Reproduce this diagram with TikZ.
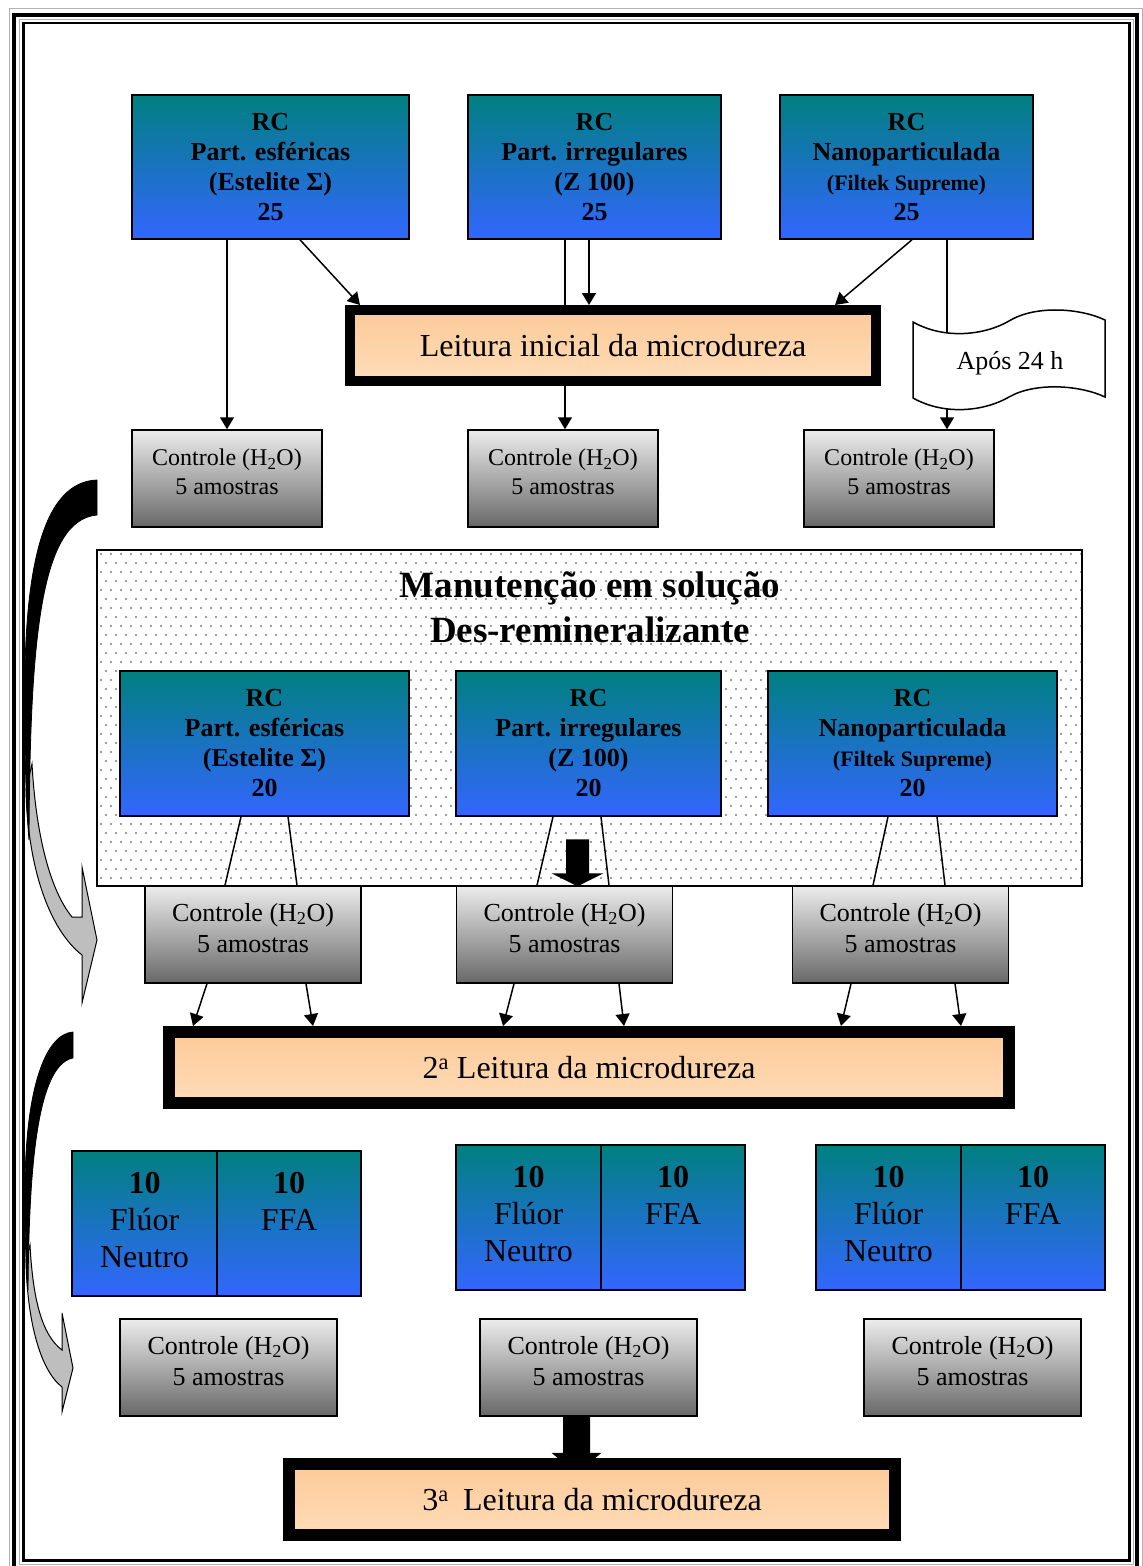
\documentclass[tikz,border=0pt]{standalone}
\usepackage{fontspec}
\setmainfont{Liberation Serif}
\usetikzlibrary{arrows.meta,calc,backgrounds}
\definecolor{tealtop}{RGB}{0,128,128}
\definecolor{bluebot}{RGB}{51,102,255}
\definecolor{graytop}{RGB}{236,236,236}
\definecolor{graybot}{RGB}{104,104,104}
\definecolor{peachA}{RGB}{252,202,152}
\definecolor{peachB}{RGB}{255,220,184}
\definecolor{arrgray}{RGB}{190,190,190}
\newcommand\ctltext{\raisebox{4pt}[\height][\depth]{\begin{tabular}{@{}c@{}}Controle (H\textsubscript{2}O)\\5 amostras\end{tabular}}}
\newcommand\cellL{\begin{tabular}{@{}c@{}}\textbf{10}\\Flúor\\Neutro\end{tabular}}
\newcommand\cellR{\begin{tabular}{@{}c@{}}\textbf{10}\\FFA\\\phantom{N}\end{tabular}}
\begin{document}
\begin{tikzpicture}[x=1pt,y=-1pt,
  bluebox/.style={draw, line width=1.5pt, top color=tealtop, bottom color=bluebot, align=center, inner sep=0pt, text=black, font=\bfseries\fontsize{26}{30}\selectfont, minimum height=144pt},
  cellbox/.style={draw, line width=1.5pt, top color=tealtop, bottom color=bluebot, align=center, inner sep=0pt, font=\fontsize{32}{37}\selectfont, minimum height=145pt},
  ctrlA/.style={draw, line width=1.5pt, top color=graytop, bottom color=graybot, align=center, inner sep=0pt, font=\fontsize{24}{29}\selectfont, minimum width=190pt, minimum height=97pt},
  ctrlB/.style={draw, line width=1.5pt, top color=graytop, bottom color=graybot, align=center, inner sep=0pt, font=\fontsize{26}{31}\selectfont, minimum width=216pt, minimum height=97pt},
  readbox/.style={draw, top color=peachA, bottom color=peachB, align=center, inner sep=0pt, font=\fontsize{32}{37}\selectfont, minimum height=71pt},
  arr/.style={line width=1.5pt, -{Triangle[length=12pt,width=14pt]}},
  ln/.style={line width=1.5pt},
  curvebk/.style={fill=black, draw=black, line width=0.8pt},
  curvegr/.style={fill=arrgray, draw=black, line width=1pt},
]
\useasboundingbox (0,0) rectangle (1143,1566);

% frame
\draw[gray!60, line width=0.8pt] (9,8) rectangle (1142,1575);
\draw[line width=4pt] (14,15) rectangle (1137,1569);
\draw[gray!60, line width=0.8pt] (19.5,19.5) rectangle (1133,1564);
\draw[line width=2.5pt] (23.5,23) rectangle (1129.5,1560.5);

% top row
\node[bluebox, minimum width=277pt] (t1) at (270.5,167) {RC\\Part. esféricas\\(Estelite Σ)\\25};
\node[bluebox, minimum width=253pt] (t2) at (594.5,167) {RC\\Part. irregulares\\(Z 100)\\25};
\node[bluebox, minimum width=253pt] (t3) at (906.5,167) {RC\\Nanoparticulada\\{\fontsize{22}{26}\selectfont (Filtek Supreme)}\\25};

\node[readbox, line width=10pt, minimum width=526pt] (L1) at (613,345.5) {Leitura inicial da microdureza};

% document shape
\filldraw[fill=white, line width=1.5pt] (913,322) .. controls (945,340) and (985,335) .. (1009,321) .. controls (1035,305) and (1080,308) .. (1105,320) -- (1105,397) .. controls (1080,385) and (1035,382) .. (1009,397) .. controls (985,411) and (945,416) .. (913,398) -- cycle;
\node[font=\fontsize{26}{30}\selectfont] (doc) at (1010,363) {Após 24 h};

\node[ctrlA] (c1) at (227,478.5) {\ctltext};
\node[ctrlA] (c2) at (563,478.5) {\ctltext};
\node[ctrlA] (c3) at (899,478.5) {\ctltext};

% panel
\begin{scope}[on background layer]
\fill[white] (97,550) rectangle (1082,886);
\begin{scope}
\clip (97,550) rectangle (1082,886);
\foreach \j in {0,...,37}{\foreach \i in {0,...,99}{\fill[black!75] ({101+\i*10+5*mod(\j,2)},{554+\j*9}) circle (0.9);}}
\end{scope}
\draw[line width=1.5pt] (97,550) rectangle (1082,886);
\end{scope}
\node[font=\bfseries\fontsize{37}{45}\selectfont, align=center] (title) at (590,607) {Manutenção em solução\\Des-remineralizante};

\node[bluebox, minimum width=289pt, minimum height=145pt] (m1) at (264.5,743.5) {RC\\Part. esféricas\\(Estelite Σ)\\20};
\node[bluebox, minimum width=265pt, minimum height=145pt] (m2) at (588.5,743.5) {RC\\Part. irregulares\\(Z 100)\\20};
\node[bluebox, minimum width=289pt, minimum height=145pt] (m3) at (912.5,743.5) {RC\\Nanoparticulada\\{\fontsize{22}{26}\selectfont (Filtek Supreme)}\\20};

\node[ctrlB] (d1) at (253,934.5) {\ctltext};
\node[ctrlB] (d2) at (564.5,934.5) {\ctltext};
\node[ctrlB] (d3) at (900.5,934.5) {\ctltext};

\node[readbox, line width=12pt, minimum width=840pt] (L2) at (589,1067.5) {2\textsuperscript{a} Leitura da microdureza};

% split boxes
\node[cellbox, minimum width=145pt] (b1a) at (144.5,1223.5) {\cellL};
\node[cellbox, minimum width=144pt] (b1b) at (289,1223.5) {\cellR};
\node[cellbox, minimum width=145pt] (b2a) at (528.5,1217.5) {\cellL};
\node[cellbox, minimum width=144pt] (b2b) at (673,1217.5) {\cellR};
\node[cellbox, minimum width=145pt] (b3a) at (888.5,1217.5) {\cellL};
\node[cellbox, minimum width=144pt] (b3b) at (1033,1217.5) {\cellR};

\node[ctrlB, minimum width=217pt] (e1) at (228.5,1367.5) {\ctltext};
\node[ctrlB, minimum width=217pt] (e2) at (588.5,1367.5) {\ctltext};
\node[ctrlB, minimum width=217pt] (e3) at (972.5,1367.5) {\ctltext};

\node[readbox, line width=12pt, minimum width=606pt] (L3) at (592,1499.5) {3\textsuperscript{a}\hspace{0.45em}Leitura da microdureza};

% connectors (behind boxes)
\begin{scope}[on background layer]
\draw[arr] (t1.south -| c1.north) -- (c1.north);
\coordinate (s1) at ($(t1.south)+(29.5,0)$);
\draw[arr] (s1) -- ($(L1.north west)+(15,0)$);
\draw[arr] ($(t2.south)+(-29.5,0)$) -- (c2.north -| {$(t2.south)+(-29.5,0)$});
\coordinate (s2) at ($(t2.south)+(-5.5,0)$);
\draw[arr] (s2) -- (s2 |- L1.north);
\draw[arr] ($(t3.south)+(5.5,0)$) -- ($(L1.north east)+(-46,0)$);
\coordinate (s3) at ($(t3.south)+(40.5,0)$);
\draw[arr] (s3) -- (s3 |- c3.north);
% block arrow E2 -> L3
\coordinate (bs) at ($(e2.south)+(-12,0)$);
\fill ($(bs)+(-13.5,0)$) -- ($(bs)+(13.5,0)$) -- ($(bs)+(13.5,36)$) -- ($(bs)+(25,36)$) -- ($(bs |- L3.north)+(0,16)$) -- ($(bs)+(-25,36)$) -- ($(bs)+(-13.5,36)$) -- cycle;
\end{scope}

% M -> D lines
\draw[ln] ($(m1.south)+(-23.5,0)$) -- ($(d1.north)+(-28,0)$);
\draw[ln] ($(m1.south)+(23.5,0)$) -- ($(d1.north)+(44,0)$);
\draw[ln] ($(m2.south)+(-35.5,0)$) -- ($(d2.north)+(-27.5,0)$);
\draw[ln] ($(m2.south)+(12.5,0)$) -- ($(d2.north)+(44.5,0)$);
\draw[ln] ($(m3.south)+(-24.5,0)$) -- ($(d3.north)+(-27.5,0)$);
\draw[ln] ($(m3.south)+(24.5,0)$) -- ($(d3.north)+(44.5,0)$);
% block arrow M2 -> D2
\coordinate (bt) at ($(d2.north)+(13,1)$);
\fill (bt) -- ++(-26,-13) -- ++(14.5,0) -- ++(0,-34) -- ++(23,0) -- ++(0,34) -- ++(14.5,0) -- cycle;

% D -> L2 arrows
\draw[arr] ($(d1.south)+(-46,0)$) -- ($(L2.north)+(-396,0)$);
\draw[arr] ($(d1.south)+(53,0)$) -- ($(L2.north)+(-276,0)$);
\draw[arr] ($(d2.south)+(-50.5,0)$) -- ($(L2.north)+(-86,0)$);
\draw[arr] ($(d2.south)+(54.5,0)$) -- ($(L2.north)+(35,0)$);
\draw[arr] ($(d3.south)+(-49.5,0)$) -- ($(L2.north)+(252,0)$);
\draw[arr] ($(d3.south)+(54.5,0)$) -- ($(L2.north)+(372,0)$);

% curved arrows on the left
\filldraw[curvegr] (32,764) .. controls (36,835) and (50,890) .. (72,917) -- (82,917) -- (82,867) -- (97,940) -- (82,1003) -- (82,955) .. controls (50,930) and (28,870) .. (26,790) -- cycle;
\filldraw[curvebk] (97,480) .. controls (45,482) and (22,560) .. (25,720) .. controls (25,780) and (27,815) .. (29,840) .. controls (30,640) and (40,520) .. (97,515) -- cycle;

\filldraw[curvegr] (30,1245) .. controls (33,1300) and (42,1335) .. (62,1350) -- (62,1313) -- (73,1368) -- (62,1412) -- (62,1387) .. controls (40,1370) and (27,1320) .. (26,1260) -- cycle;
\filldraw[curvebk] (73,1032) .. controls (45,1034) and (24,1090) .. (25,1200) .. controls (25,1240) and (26,1270) .. (28,1290) .. controls (29,1180) and (35,1065) .. (73,1058) -- cycle;
\end{tikzpicture}
\end{document}
